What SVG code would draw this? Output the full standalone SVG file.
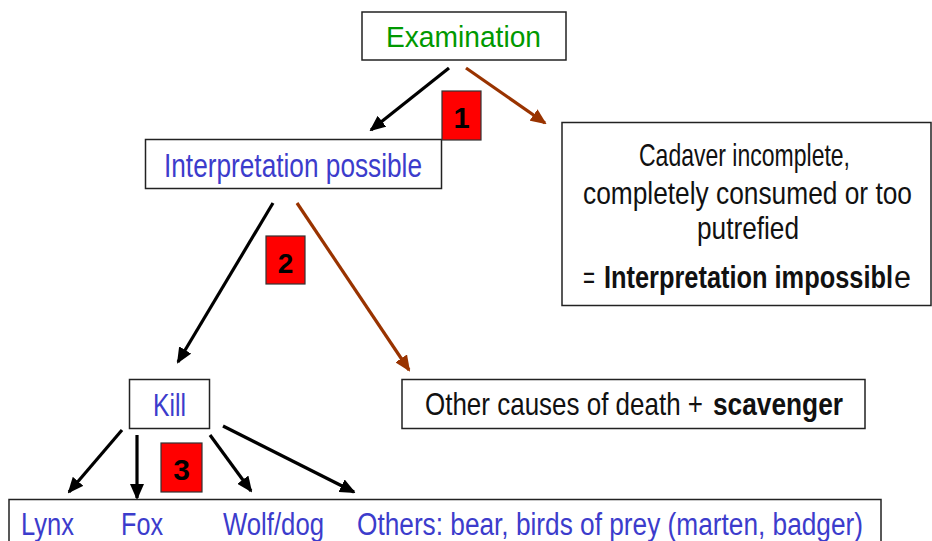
<svg xmlns="http://www.w3.org/2000/svg" width="932" height="541" viewBox="0 0 932 541">
<style>
.box{fill:#fff;stroke:#222;stroke-width:1.5}
.t{font-family:"Liberation Sans",Arial,sans-serif}
.blue{fill:#3c3ccc}
.green{fill:#009900}
.blk{fill:#111}
.b{font-weight:bold}
.red{fill:#ff0000;stroke:#333;stroke-width:1.2}
.num{font-family:"Liberation Sans",Arial,sans-serif;font-weight:bold;fill:#000;text-anchor:middle}
.ak{stroke:#000;stroke-width:3.2;fill:none;marker-end:url(#mk)}
.ab{stroke:#993300;stroke-width:3.2;fill:none;marker-end:url(#mb)}
</style>
<defs>
<marker id="mk" markerUnits="userSpaceOnUse" markerWidth="16" markerHeight="14" refX="14" refY="7" orient="auto"><path d="M0,0 L16,7 L0,14 z" fill="#000"/></marker>
<marker id="mb" markerUnits="userSpaceOnUse" markerWidth="16" markerHeight="14" refX="14" refY="7" orient="auto"><path d="M0,0 L16,7 L0,14 z" fill="#993300"/></marker>
</defs>
<rect width="932" height="541" fill="#fff"/>
<g id="connectors">
<line class="ak" x1="449" y1="68" x2="371" y2="130"/>
<line class="ab" x1="466" y1="68" x2="545" y2="123"/>
<line class="ak" x1="273" y1="203" x2="178" y2="362"/>
<line class="ab" x1="297" y1="203" x2="409" y2="370"/>
<line class="ak" x1="122" y1="430" x2="69" y2="492"/>
<line class="ak" x1="137" y1="435" x2="137" y2="498"/>
<line class="ak" x1="210" y1="435" x2="251" y2="491"/>
<line class="ak" x1="223" y1="426" x2="354" y2="492"/>
</g>
<g id="examination">
<rect class="box" x="362" y="12" width="204" height="48"/>
<text class="t green" x="386" y="47" font-size="29" textLength="155" lengthAdjust="spacingAndGlyphs">Examination</text>
</g>
<g id="interpretation-possible">
<rect class="box" x="145.5" y="139.5" width="296" height="49"/>
<text class="t blue" x="164" y="177" font-size="33" textLength="258" lengthAdjust="spacingAndGlyphs">Interpretation possible</text>
</g>
<g id="interpretation-impossible">
<rect class="box" x="562" y="122.5" width="369" height="183"/>
<text class="t blk" x="639" y="166" font-size="32" textLength="211" lengthAdjust="spacingAndGlyphs">Cadaver incomplete,</text>
<text class="t blk" x="583" y="204" font-size="32" textLength="329" lengthAdjust="spacingAndGlyphs">completely consumed or too</text>
<text class="t blk" x="697" y="239" font-size="32" textLength="102" lengthAdjust="spacingAndGlyphs">putrefied</text>
<text class="t blk" x="583" y="288" font-size="32" textLength="12" lengthAdjust="spacingAndGlyphs">=</text>
<text class="t blk b" x="604" y="288" font-size="31" textLength="289" lengthAdjust="spacingAndGlyphs">Interpretation impossibl</text>
<text class="t blk" x="894" y="288" font-size="31" textLength="17" lengthAdjust="spacingAndGlyphs">e</text>
</g>
<g id="kill">
<rect class="box" x="129.5" y="379.5" width="80" height="49"/>
<text class="t blue" x="153" y="416" font-size="31" textLength="33" lengthAdjust="spacingAndGlyphs">Kill</text>
</g>
<g id="other-causes">
<rect class="box" x="402" y="379.5" width="463" height="49"/>
<text class="t blk" x="425" y="415" font-size="32" textLength="278" lengthAdjust="spacingAndGlyphs">Other causes of death +</text>
<text class="t blk b" x="713" y="415" font-size="32" textLength="130" lengthAdjust="spacingAndGlyphs">scavenger</text>
</g>
<g id="predators">
<rect class="box" x="9" y="499.5" width="872" height="50"/>
<text class="t blue" x="21" y="535" font-size="31" textLength="53" lengthAdjust="spacingAndGlyphs">Lynx</text>
<text class="t blue" x="121" y="535" font-size="31" textLength="42" lengthAdjust="spacingAndGlyphs">Fox</text>
<text class="t blue" x="223" y="535" font-size="31" textLength="101" lengthAdjust="spacingAndGlyphs">Wolf/dog</text>
<text class="t blue" x="357" y="535" font-size="31" textLength="506" lengthAdjust="spacingAndGlyphs">Others: bear, birds of prey (marten, badger)</text>
</g>
<g id="step1">
<rect class="red" x="442" y="91" width="39" height="49"/>
<text class="num" x="461.5" y="128" font-size="29">1</text>
</g>
<g id="step2">
<rect class="red" x="266" y="236" width="39" height="48"/>
<text class="num" x="285.5" y="273" font-size="28">2</text>
</g>
<g id="step3">
<rect class="red" x="161" y="443" width="41" height="49"/>
<text class="num" x="181.5" y="480" font-size="30">3</text>
</g>
</svg>
